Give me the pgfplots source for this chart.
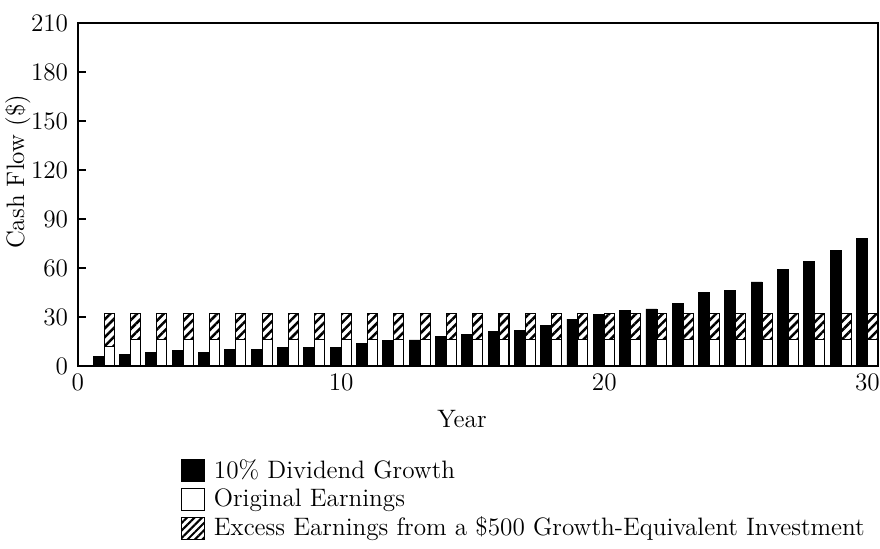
\documentclass[border=0pt,12pt]{standalone}
\usepackage{pgfplots}
\usepackage{pgfplotstable}
\pgfplotsset{compat=1.18}
\usetikzlibrary{patterns.meta}

\pgfplotstableread{
year div orig total
1 5.7 12 32
2 7.1 16 32
3 8.4 16 32
4 9.2 16 32
5 8.2 16 32
6 10.2 16 32
7 10.2 16 32
8 11.4 16 32
9 11.4 16 32
10 11.4 16 32
11 13.5 16 32
12 15.5 16 32
13 15.9 16 32
14 17.9 16 32
15 19.4 16 32
16 21.0 16 32
17 21.8 16 32
18 24.7 16 32
19 28.6 16 32
20 31.7 16 32
21 33.9 16 32
22 34.9 16 32
23 38.1 16 32
24 44.7 16 32
25 46.3 16 32
26 51.4 16 32
27 58.8 16 32
28 64.1 16 32
29 70.6 16 32
30 77.8 16 32
}\data

\begin{document}
\begin{tikzpicture}
\begin{axis}[
  name=ax,
  scale only axis,
  width=381pt, height=163.3pt,
  xmin=0, xmax=30.4,
  ymin=0, ymax=210,
  xtick={0,10,20,30},
  ytick={0,30,...,210},
  xtick pos=bottom, ytick pos=left,
  tick align=inside,
  major tick length=4pt,
  axis line style={line width=0.6pt},
  every tick/.style={black, line width=0.6pt},
  yticklabel style={xshift=-0.5pt},
  every axis x label/.style={at={(rel axis cs:0.48,0)}, yshift=-25.2pt, anchor=center},
  every axis y label/.style={at={(rel axis cs:0,0.566)}, xshift=-28.6pt, rotate=90, anchor=center},
  xlabel={Year},
  ylabel={Cash Flow (\$)},
  legend image code/.code={\draw[#1] (0pt,-5.2pt) rectangle (11pt,5.2pt);},
  legend cell align=left,
  legend style={draw=none, fill=none, inner sep=0pt, row sep=1.2pt,
    nodes={inner sep=1pt},
    /tikz/every odd column/.append style={column sep=3pt},
    at={(rel axis cs:0.1275,-0.265)}, anchor=north west},
]
\addplot[ybar, bar width=5.24pt, bar shift=-2.62pt, fill=black, draw=black, forget plot] table[x=year,y=div]{\data};
\addplot[ybar, bar width=4.76pt, bar shift=2.38pt, draw=black, line width=0.5pt,
  pattern={Lines[angle=45,distance=3pt,line width=1.2pt]}, forget plot] table[x=year,y=total]{\data};
\addplot[ybar, bar width=4.76pt, bar shift=2.38pt, draw=black, line width=0.5pt, fill=white, forget plot] table[x=year,y=orig]{\data};

\addlegendimage{fill=black, draw=black}
\addlegendentry{10\% Dividend Growth}
\addlegendimage{fill=white, draw=black, line width=0.5pt}
\addlegendentry{Original Earnings}
\addlegendimage{draw=black, line width=0.5pt, pattern={Lines[angle=45,distance=2.5pt,line width=1pt]}}
\addlegendentry{Excess Earnings from a \$500 Growth-Equivalent Investment}
\end{axis}
\pgfresetboundingbox
\path ([xshift=-37.1pt,yshift=-87.1pt]ax.south west) rectangle ([xshift=0.95pt,yshift=10.95pt]ax.north east);
\end{tikzpicture}
\end{document}
